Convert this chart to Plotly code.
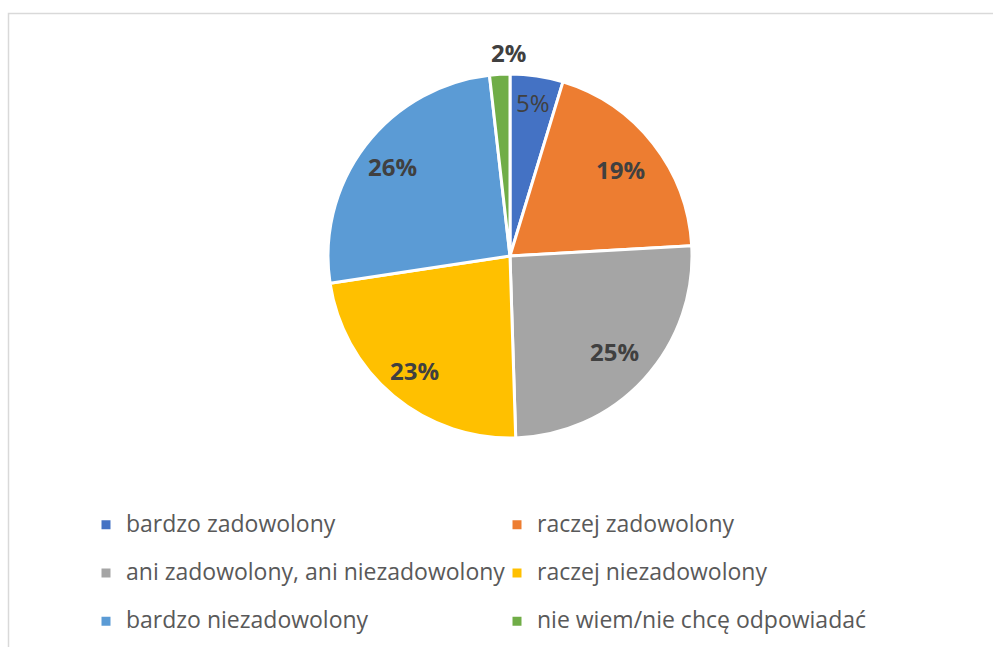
import math
import plotly.graph_objects as go

# ---- data ----
categories = [
    "bardzo zadowolony",
    "raczej zadowolony",
    "ani zadowolony, ani niezadowolony",
    "raczej niezadowolony",
    "bardzo niezadowolony",
    "nie wiem/nie chcę odpowiadać",
]
shares = [4.7, 19.4, 25.4, 23.1, 25.6, 1.8]

# ---- style ----
colors = ["#4472C4", "#ED7D31", "#A5A5A5", "#FFC000", "#5B9BD5", "#70AD47"]
bold = [False, True, True, True, True, True]
label_radius = [0.85, 0.77, 0.78, 0.82, 0.81, 1.12]  # fraction of pie radius

W, H = 993, 647
cx, cy, R = 510, 256, 182

legend_labels = [
    '<span style="font-size:23px">%s</span><br> ' % c for c in categories
]

fig = go.Figure(
    go.Pie(
        labels=legend_labels,
        values=shares,
        sort=False,
        direction="clockwise",
        rotation=0,
        marker=dict(colors=colors, line=dict(color="white", width=3)),
        textinfo="none",
        hoverinfo="skip",
        domain=dict(
            x=[(cx - R) / W, (cx + R) / W],
            y=[1 - (cy + R) / H, 1 - (cy - R) / H],
        ),
    )
)

# data labels placed along each slice's mid-angle (computed from the data)
total = sum(shares)
annotations = []
cum = 0.0
for v, b, rf in zip(shares, bold, label_radius):
    mid = (cum + v / 2) / total * 2 * math.pi
    cum += v
    px = cx + rf * R * math.sin(mid)
    py = cy - rf * R * math.cos(mid)
    txt = "%d%%" % round(v / total * 100)
    outside = rf > 1
    annotations.append(
        dict(
            x=px / W,
            y=1 - py / H,
            xref="paper",
            yref="paper",
            text=("<b>%s</b>" % txt) if b else txt,
            showarrow=False,
            xanchor="left" if (outside and math.sin(mid) < 0) else "center",
            xshift=-9 if outside else 0,
            yanchor="middle",
            font=dict(family="Open Sans", size=24, color="#404040"),
        )
    )

fig.update_layout(
    width=W,
    height=H,
    margin=dict(l=0, r=0, t=0, b=0, autoexpand=False),
    paper_bgcolor="white",
    plot_bgcolor="white",
    annotations=annotations,
    showlegend=True,
    legend=dict(
        orientation="h",
        x=86 / W,
        xanchor="left",
        y=1 - 507 / H,
        yanchor="top",
        font=dict(family="Open Sans", size=17.4, color="#595959"),
        entrywidth=366,
        entrywidthmode="pixels",
        valign="top",
        itemwidth=30,
        traceorder="normal",
        bgcolor="rgba(0,0,0,0)",
    ),
    shapes=[
        dict(
            type="rect",
            xref="paper",
            yref="paper",
            x0=8.5 / W,
            x1=1.05,
            y0=-0.05,
            y1=1 - 13.5 / H,
            line=dict(color="#d9d9d9", width=1.5),
            fillcolor="rgba(0,0,0,0)",
            layer="below",
        )
    ],
)

fig.write_html(
    "out.html",
    config={"displayModeBar": False},
    post_script="document.body.style.margin='0';document.body.style.overflow='hidden';",
)
